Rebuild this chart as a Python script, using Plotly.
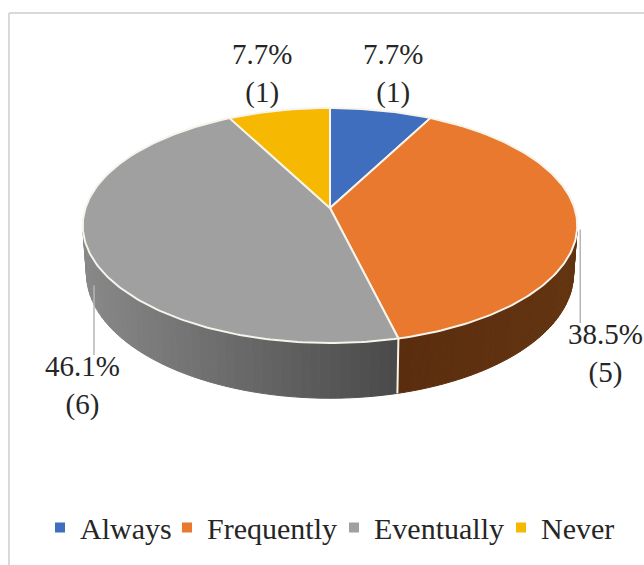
import math
import plotly.graph_objects as go

categories = ["Always", "Frequently", "Eventually", "Never"]
counts = [1, 5, 6, 1]
percents = ["7.7%", "38.5%", "46.1%", "7.7%"]
top_colors = ["#3e6ebd", "#e9792f", "#a0a0a0", "#f6b800"]
wall_left = [None, "#633410", "#888888", None]
wall_right = [None, "#5a2d0f", "#4a4a4a", None]
label_xy = [(393, 73), (605, 353), (82, 385), (262, 73)]
legend_left = [40, 167, 334, 501]

CX, CY = 330, 208      # apex on screen
KX, KY, P = 244.5, 114.9, 0.149   # projective camera of the disc
DEPTH = 47
FONT = "Liberation Serif"


def project(phi):
    u, v = math.sin(phi), math.cos(phi)
    d = 1 + P * v
    return CX + KX * u / d, CY - KY * v / d, d


def lower(phi):
    x, y, d = project(phi)
    return CX + (x - CX) * 0.985, y + DEPTH / d


def mix(a, b, t):
    ca = [int(a[i:i + 2], 16) for i in (1, 3, 5)]
    cb = [int(b[i:i + 2], 16) for i in (1, 3, 5)]
    return "#%02x%02x%02x" % tuple(round(p + (q - p) * t) for p, q in zip(ca, cb))


total = sum(counts)
edges = [0.0]
for c in counts:
    edges.append(edges[-1] + 2 * math.pi * c / total)

RIGHT_EXT = math.acos(-P)
LEFT_EXT = 2 * math.pi - RIGHT_EXT

fig = go.Figure()

# side wall, drawn strip by strip so it can carry the shading
for i in range(len(counts)):
    if wall_left[i] is None:
        continue
    a = max(edges[i], RIGHT_EXT)
    b = min(edges[i + 1], LEFT_EXT)
    if b <= a:
        continue
    n = 48
    for k in range(n):
        p0 = a + (b - a) * k / n
        p1 = a + (b - a) * (k + 1) / n
        xa, ya, _ = project(p0)
        xb, yb, _ = project(p1)
        xc, yc = lower(p1)
        xd, yd = lower(p0)
        t = ((xa + xb) / 2 - 85) / (395 - 85) if i == 2 else (570 - (xa + xb) / 2) / (570 - 397)
        t = min(max(t, 0), 1)
        col = mix(wall_left[i], wall_right[i], t)
        fig.add_trace(go.Scatter(x=[xa, xb, xc, xd, xa], y=[ya, yb, yc, yd, ya], mode="lines",
                                 fill="toself", fillcolor=col, line=dict(color=col, width=1),
                                 hoverinfo="skip", showlegend=False))

# seam between the two walls
sx, sy, _ = project(edges[2])
lx, ly = lower(edges[2])
fig.add_trace(go.Scatter(x=[sx, lx], y=[sy, ly], mode="lines", line=dict(color="#f7f4ec", width=2),
                         hoverinfo="skip", showlegend=False))

# top of the disc
for i, cat in enumerate(categories):
    n = max(8, counts[i] * 30)
    xs, ys = [CX], [CY]
    for k in range(n + 1):
        x, y, _ = project(edges[i] + (edges[i + 1] - edges[i]) * k / n)
        xs.append(x)
        ys.append(y)
    xs.append(CX)
    ys.append(CY)
    fig.add_trace(go.Scatter(x=xs, y=ys, mode="lines", fill="toself", fillcolor=top_colors[i],
                             line=dict(color="#f7f4ec", width=2), name=cat,
                             hovertemplate=cat + ": " + percents[i] + "<extra></extra>", showlegend=False))

# legend entries, one legend per entry so each sits where the reference puts it
legend_layout = {}
for i, cat in enumerate(categories):
    key = "legend" if i == 0 else f"legend{i + 1}"
    fig.add_trace(go.Scatter(x=[None], y=[None], mode="markers", name=cat, legend=key,
                             marker=dict(symbol="square", size=10, color=top_colors[i])))
    legend_layout[key] = dict(orientation="h", x=legend_left[i] / 644, xanchor="left", y=0.1125, yanchor="top",
                              itemwidth=30, font=dict(family=FONT, size=30, color="#262626"),
                              bgcolor="rgba(0,0,0,0)")

# leader lines
r_x, r_y, _ = project(RIGHT_EXT)
fig.add_trace(go.Scatter(x=[r_x + 3, r_x + 3], y=[r_y + 4, label_xy[1][1] - 30], mode="lines",
                         line=dict(color="#b5b5b5", width=1.5), hoverinfo="skip", showlegend=False))
fig.add_trace(go.Scatter(x=[94, 94], y=[lower(LEFT_EXT)[1] + 12, label_xy[2][1] - 30], mode="lines",
                         line=dict(color="#b5b5b5", width=1.5), hoverinfo="skip", showlegend=False))

annotations = [
    dict(x=label_xy[i][0], y=label_xy[i][1], xref="x", yref="y", showarrow=False, align="center",
         text=f"{percents[i]}<br>({counts[i]})", font=dict(family=FONT, size=29, color="#262626"))
    for i in range(len(categories))
]

fig.update_layout(
    width=644, height=565,
    margin=dict(l=0, r=0, t=0, b=0),
    paper_bgcolor="white", plot_bgcolor="white",
    xaxis=dict(range=[0, 644], visible=False, fixedrange=True),
    yaxis=dict(range=[565, 0], visible=False, fixedrange=True),
    annotations=annotations,
    shapes=[
        dict(type="line", xref="paper", yref="paper", x0=9 / 644, x1=1, y0=1 - 13 / 565, y1=1 - 13 / 565,
             line=dict(color="#d9d9d9", width=2)),
        dict(type="line", xref="paper", yref="paper", x0=9 / 644, x1=9 / 644, y0=0, y1=1 - 13 / 565,
             line=dict(color="#d9d9d9", width=2)),
    ],
    **legend_layout,
)

fig.write_html("out.html", config=dict(displayModeBar=False),
               post_script="document.body.style.margin='0';document.body.style.overflow='hidden';")
